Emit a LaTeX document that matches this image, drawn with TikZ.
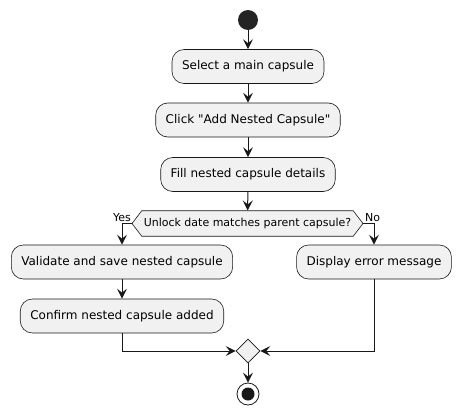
\documentclass[tikz,border=0pt]{standalone}
\usepackage{fontspec}
\setmainfont{DejaVu Sans}
\usetikzlibrary{arrows.meta,shapes.geometric,shapes.symbols}
\definecolor{boxfill}{HTML}{F1F1F1}
\definecolor{ink}{HTML}{181818}
\begin{document}
\begin{tikzpicture}[x=1pt,y=-1pt,
    act/.style={draw=ink,line width=0.6pt,fill=boxfill,rounded corners=12pt,minimum height=34pt,inner xsep=10pt,font=\fontsize{12}{14}\selectfont},
    flow/.style={draw=ink,line width=1pt,-{Stealth[length=10pt,width=10pt,inset=4pt]}},
    lbl/.style={inner sep=0pt,font=\fontsize{11}{13}\selectfont}]
    \useasboundingbox (0,0) rectangle (461,415);
    \node[circle,fill=ink!95!white,minimum size=20pt,inner sep=0pt] (start) at (248,20) {};
    \node[act] (select) at (248,66.5) {Select a main capsule};
    \node[act] (click) at (248,120) {Click \textquotedbl Add Nested Capsule\textquotedbl};
    \node[act] (fill) at (248,174.5) {Fill nested capsule details};
    \node[draw=ink,line width=0.6pt,fill=boxfill,signal,signal to=west and east,signal pointer angle=105,
          minimum width=231pt,minimum height=25.5pt,inner sep=0pt,font=\fontsize{11}{13}\selectfont] (check) at (247.5,223.5) {Unlock date matches parent capsule?};
    \node[lbl,anchor=base east] (yes) at (131,221) {Yes};
    \node[lbl,anchor=base west] (no) at (365,221) {No};
    \node[act] (validate) at (122,262) {Validate and save nested capsule};
    \node[act] (error) at (374,262) {Display error message};
    \node[act] (confirm) at (122,316) {Confirm nested capsule added};
    \node[diamond,draw=ink,line width=0.6pt,fill=boxfill,minimum size=24pt,inner sep=0pt,aspect=1] (merge) at (248,351) {};
    \node[circle,draw=ink,line width=0.8pt,minimum size=22pt,inner sep=0pt,
          path picture={\fill[ink] (path picture bounding box.center) circle (6.5pt);}] (stop) at (248,394) {};
    % main flow
    \draw[flow] (start) -- (select);
    \draw[flow] (select) -- (click);
    \draw[flow] (click) -- (fill);
    \draw[flow] (fill) -- (check);
    \draw[flow] (check.west) -| (validate.north);
    \draw[flow] (check.east) -| (error.north);
    \draw[flow] (validate) -- (confirm);
    \draw[flow] (confirm.south) |- (merge.west);
    \draw[flow] (error.south) |- (merge.east);
    \draw[flow] (merge) -- (stop);
\end{tikzpicture}
\end{document}
